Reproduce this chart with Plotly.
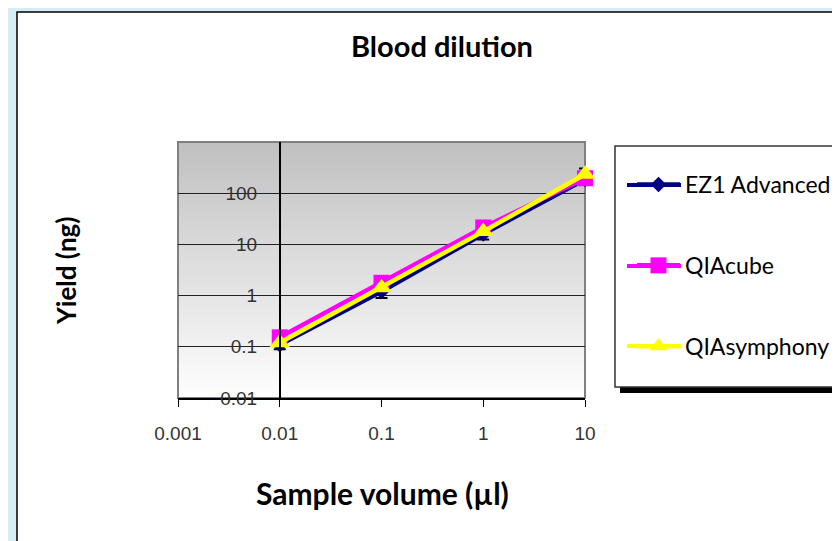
import plotly.graph_objects as go

# ---- data ----
volumes = [0.01, 0.1, 1, 10]
ez1 = [0.11, 1.2, 16, 185]
ez1_err_plus = [0.015, 0.2, 2, 120]
ez1_err_minus = [0.02, 0.3, 3.5, 20]
qiacube = [0.153, 1.78, 21.4, 196]
qiasymphony = [0.12, 1.43, 17.9, 234]

series_names = ["EZ1 Advanced", "QIAcube", "QIAsymphony"]
series_colors = ["#000080", "#ff00ff", "#ffff00"]

x_ticks = [0.001, 0.01, 0.1, 1, 10]
x_ticktext = ["0.001", "0.01", "0.1", "1", "10"]
y_ticks = [0.01, 0.1, 1, 10, 100]
y_ticktext = ["0.01", "0.1", "1", "10", "100"]

W, H = 840, 541
OFF = 8  # page offset of the figure in the screenshot
# target plot-area edges in screenshot pixels
SL, SR, ST, SB = 178, 585, 142, 398
L, R, T, B = SL - OFF, SR - OFF, ST - OFF, SB - OFF


def px_x(p):
    return (p - SL) / (SR - SL)


def px_y(p):
    return (SB - p) / (SB - ST)


fig = go.Figure()

fig.add_trace(go.Scatter(
    x=volumes, y=ez1, name=series_names[0], mode="lines+markers",
    line=dict(color=series_colors[0], width=4.5),
    marker=dict(symbol="diamond", size=12, color=series_colors[0]),
    error_y=dict(type="data", symmetric=False, array=ez1_err_plus,
                 arrayminus=ez1_err_minus, color="black", thickness=2, width=6),
    legendgroup="a", cliponaxis=False,
))
fig.add_trace(go.Scatter(
    x=volumes, y=qiacube, name=series_names[1], mode="lines+markers",
    line=dict(color=series_colors[1], width=4.5),
    marker=dict(symbol="square", size=16, color=series_colors[1]),
    legendgroup="b", cliponaxis=False,
))
fig.add_trace(go.Scatter(
    x=volumes, y=qiasymphony, name=series_names[2], mode="lines+markers",
    line=dict(color=series_colors[2], width=4.5),
    marker=dict(symbol="triangle-up", size=18, color=series_colors[2]),
    legendgroup="c", cliponaxis=False,
))

shapes = []
# white chart area with black frame
shapes.append(dict(type="rect", xref="paper", yref="paper",
                   x0=px_x(17), x1=px_x(860), y0=px_y(570), y1=px_y(12),
                   fillcolor="white", line=dict(color="black", width=1.5),
                   layer="below"))
# gradient plot background
N = 64
for i in range(N):
    f = i / (N - 1)
    g = int(round(192 + (254 - 192) * f))
    shapes.append(dict(type="rect", xref="paper", yref="paper",
                       x0=0, x1=1, y0=1 - (i + 1) / N, y1=1 - i / N + 0.002,
                       fillcolor=f"rgb({g},{g},{g})", line=dict(width=0),
                       layer="below"))
# plot border
shapes.append(dict(type="rect", xref="paper", yref="paper", x0=0, x1=1, y0=0, y1=1,
                   line=dict(color="#808080", width=2), layer="below"))
# legend shadow and box
shapes.append(dict(type="rect", xref="paper", yref="paper",
                   x0=px_x(620), x1=px_x(870), y0=px_y(393), y1=px_y(151),
                   fillcolor="black", line=dict(width=0), layer="below"))
shapes.append(dict(type="rect", xref="paper", yref="paper",
                   x0=px_x(615), x1=px_x(870), y0=px_y(387), y1=px_y(146),
                   fillcolor="white", line=dict(color="#333", width=1.5), layer="below"))
# longer legend key lines (Excel-style)
for ly, col in zip([185, 266, 346], series_colors):
    shapes.append(dict(type="line", xref="paper", yref="paper",
                       x0=px_x(627), x1=px_x(681), y0=px_y(ly), y1=px_y(ly),
                       line=dict(color=col, width=4), layer="above"))

fig.update_layout(
    width=W, height=H,
    margin=dict(l=L, r=W - R, t=T, b=H - B),
    paper_bgcolor="#d6edf5",
    plot_bgcolor="rgba(0,0,0,0)",
    shapes=shapes,
    title=dict(text="<b>Blood dilution</b>", x=(442 - OFF) / W, y=1 - (47 - OFF) / H,
               xanchor="center", yanchor="middle",
               font=dict(family="Lato", size=29, color="black")),
    xaxis=dict(type="log", range=[-3, 1], tickvals=x_ticks, ticktext=x_ticktext,
               showgrid=False, zeroline=False, showline=True, linecolor="black",
               linewidth=1.5, ticks="outside", ticklen=7, tickcolor="black",
               ticklabelstandoff=10,
               tickfont=dict(family="Liberation Sans", size=19, color="#333")),
    yaxis=dict(type="log", range=[-2, 3], tickvals=y_ticks, ticktext=y_ticktext,
               anchor="free", position=0.25, showgrid=True, gridcolor="#222",
               gridwidth=1, zeroline=False, showline=True, linecolor="black",
               linewidth=1.5, ticks="", ticklabelstandoff=18,
               tickfont=dict(family="Liberation Sans", size=19, color="#333")),
    legend=dict(x=px_x(632), y=px_y(163), xanchor="left", yanchor="top",
                bgcolor="rgba(0,0,0,0)", borderwidth=0, tracegroupgap=48,
                itemwidth=43,
                font=dict(family="Lato", size=23, color="black")),
    annotations=[
        dict(text="<b>Yield (ng)</b>", xref="paper", yref="paper",
             x=px_x(66), y=px_y(271), showarrow=False, textangle=-90,
             xanchor="center", yanchor="middle",
             font=dict(family="Lato", size=26, color="black")),
        dict(text="<b>Sample volume (µl)</b>", xref="paper", yref="paper",
             x=px_x(382), y=px_y(493), showarrow=False,
             xanchor="center", yanchor="middle",
             font=dict(family="Lato", size=30, color="black")),
    ],
)

fig.write_html("out.html")
